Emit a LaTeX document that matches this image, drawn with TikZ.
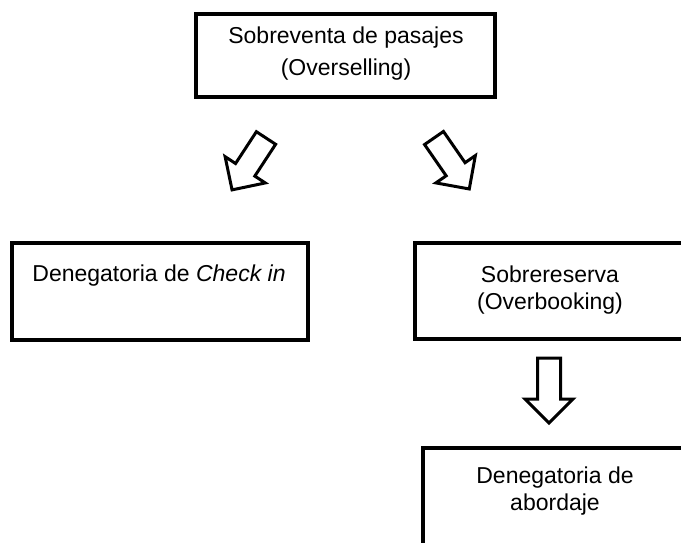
\documentclass[tikz,border=0pt]{standalone}
\usepackage{fontspec}
\setmainfont{Liberation Sans}
\begin{document}
\begin{tikzpicture}[x=1pt,y=-1pt,
  box/.style={draw=black, line width=4pt, rectangle, inner sep=0pt, outer sep=0pt},
  txt/.style={align=center, inner sep=0pt, font=\fontsize{23}{30}\selectfont},
  arrowline/.style={draw=black, fill=white, line width=3pt, line join=miter},
  pics/blockarrow/.style={code={
    \draw[arrowline] (0,-11.5) -- (#1-24,-11.5) -- (#1-24,-24) -- (#1,0)
      -- (#1-24,24) -- (#1-24,11.5) -- (0,11.5) -- cycle;}}
]
\useasboundingbox (0,0) rectangle (681,542);
\clip (0,0) rectangle (681,542);
% boxes
\node[box, minimum width=299pt, minimum height=83pt] (top) at (345.5,55.5) {};
\node[box, minimum width=296pt, minimum height=97pt] (left) at (160,291.5) {};
\node[box, minimum width=271pt, minimum height=96pt] (right) at (550.5,291) {};
\node[box, minimum width=264pt, minimum height=112pt] (bottom) at (555,504) {};
% texts
\node[txt, font=\fontsize{23}{32}\selectfont] (ttop) at (346,53.5) {Sobreventa de pasajes\\(Overselling)};
\node[txt] (tleft) at (159,275.5) {Denegatoria de \textit{Check in}};
\node[txt, font=\fontsize{23}{27}\selectfont] (tright) at (550,290.5) {Sobrereserva\\(Overbooking)};
\node[txt, font=\fontsize{23}{27}\selectfont] (tbottom) at (555,491.5) {Denegatoria de\\abordaje};
% block arrows
\coordinate (a1) at (266,138);
\coordinate (a2) at (434,138);
\coordinate (a3) at (549,358);
\pic[rotate=236.8] at (a1) {blockarrow=62};
\pic[rotate=-55.3] at (a2) {blockarrow=62};
\pic[rotate=-90] at (a3) {blockarrow=65};
\end{tikzpicture}
\end{document}
